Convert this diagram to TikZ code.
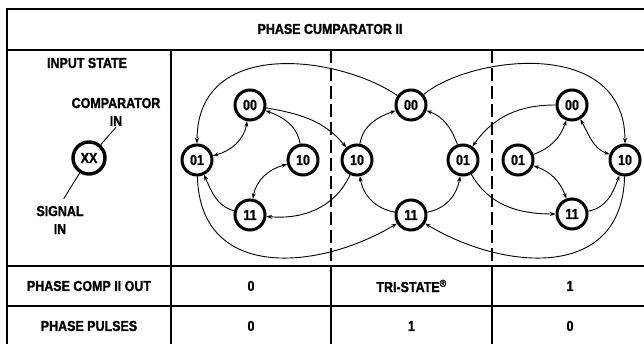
\documentclass[tikz,border=0pt]{standalone}
\usepackage{fontspec}
\setmainfont{Liberation Sans}[FakeStretch=0.86, BoldFeatures={FakeBold=1.2}]
\usetikzlibrary{arrows.meta}

\begin{document}
\begin{tikzpicture}[x=1pt, y=1pt,
    font=\fontsize{14.5}{18}\selectfont\bfseries,
    st/.style={circle, draw, line width=3pt, minimum size=30pt, inner sep=0pt},
    tr/.style={line width=0.9pt, -{Stealth[length=5.5pt,width=4pt]}},
    trb/.style={line width=0.9pt, {Stealth[length=5.5pt,width=4pt]}-{Stealth[length=5.5pt,width=4pt]}},
    grid/.style={line width=1.8pt},
    sep/.style={line width=1.8pt, dash pattern=on 13pt off 5pt}]
    \useasboundingbox (0,0) rectangle (644,344);

    % table frame
    \draw[grid] (7,-2) rectangle (653,335);
    \draw[grid] (7,294) -- (653,294);
    \draw[grid] (7,78) -- (653,78);
    \draw[grid] (7,38) -- (653,38);
    \draw[grid] (171,-2) -- (171,294);
    \draw[grid] (331,-2) -- (331,78);
    \draw[grid] (492,-2) -- (492,78);
    \draw[sep] (331,294) -- (331,78);
    \draw[sep] (492,294) -- (492,78);

    % headings
    \node (title) at (330,315) {PHASE CUMPARATOR II};
    \node (instate) at (87,281) {INPUT STATE};
    \node[st, minimum size=32pt, line width=3.4pt] (xx) at (89,186) {XX};
    \node[align=center, inner sep=1pt] (cmpin) at (116,232) {COMPARATOR\\IN};
    \node[align=center, inner sep=1pt] (sigin) at (60,124) {SIGNAL\\IN};
    \draw[line width=0.9pt] (xx) -- (cmpin.south);
    \draw[line width=0.9pt, shorten >=7pt] (xx) -- (sigin.north);

    % states
    \node[st] (a00) at (250,239) {00};
    \node[st] (a01) at (197,184) {01};
    \node[st] (a10) at (303,184) {10};
    \node[st] (a11) at (250,129) {11};
    \node[st] (b10) at (357,184) {10};
    \node[st] (b00) at (411,239) {00};
    \node[st] (b01) at (463,184) {01};
    \node[st] (b11) at (411,129) {11};
    \node[st] (c01) at (518,184) {01};
    \node[st] (c00) at (572,239) {00};
    \node[st] (c10) at (625,184) {10};
    \node[st] (c11) at (572,130) {11};

    % left group
    \draw[trb] (a01) to[out=15,in=-100] (a00);
    \draw[tr] (a10) to[out=100,in=-20] (a00);
    \draw[trb] (a10) to[out=195,in=80] (a11);
    \draw[tr] (a11) to[out=165,in=-65] (a01);
    \draw[tr] (b00) .. controls (340,288) and (197,308) .. (a01);
    \draw[tr] (a00) to[out=-10,in=130] (b10);
    \draw[tr] (b10) to[out=-115,in=-5] (a11);
    \draw[tr] (a01) .. controls (200,62) and (320,74) .. (b11);

    % middle group
    \draw[tr] (b10) to[out=80,in=200] (b00);
    \draw[tr] (b11) to[out=170,in=-80] (b10);
    \draw[tr] (b01) to[out=110,in=-20] (b00);
    \draw[tr] (b11) to[out=10,in=-100] (b01);
    \draw[tr] (b00) .. controls (470,288) and (625,308) .. (c10);
    \draw[tr] (c00) to[out=180,in=55] (b01);
    \draw[tr] (b01) to[out=-60,in=180] (c11);
    \draw[tr] (c10) .. controls (622,62) and (502,74) .. (b11);

    % right group
    \draw[tr] (c01) to[out=20,in=-110] (c00);
    \draw[trb] (c00) to[out=-60,in=160] (c10);
    \draw[trb] (c01) to[out=-20,in=110] (c11);
    \draw[tr] (c11) to[out=10,in=-110] (c10);

    % outputs
    \node (out) at (89,58) {PHASE COMP II OUT};
    \node (outa) at (251,58) {0};
    \node (outb) at (411.5,58) {TRI-STATE\textsuperscript{\textregistered}};
    \node (outc) at (570,58) {1};
    \node (pulses) at (89,18) {PHASE PULSES};
    \node (pula) at (251,18) {0};
    \node (pulb) at (411.5,18) {1};
    \node (pulc) at (570,18) {0};
\end{tikzpicture}
\end{document}
